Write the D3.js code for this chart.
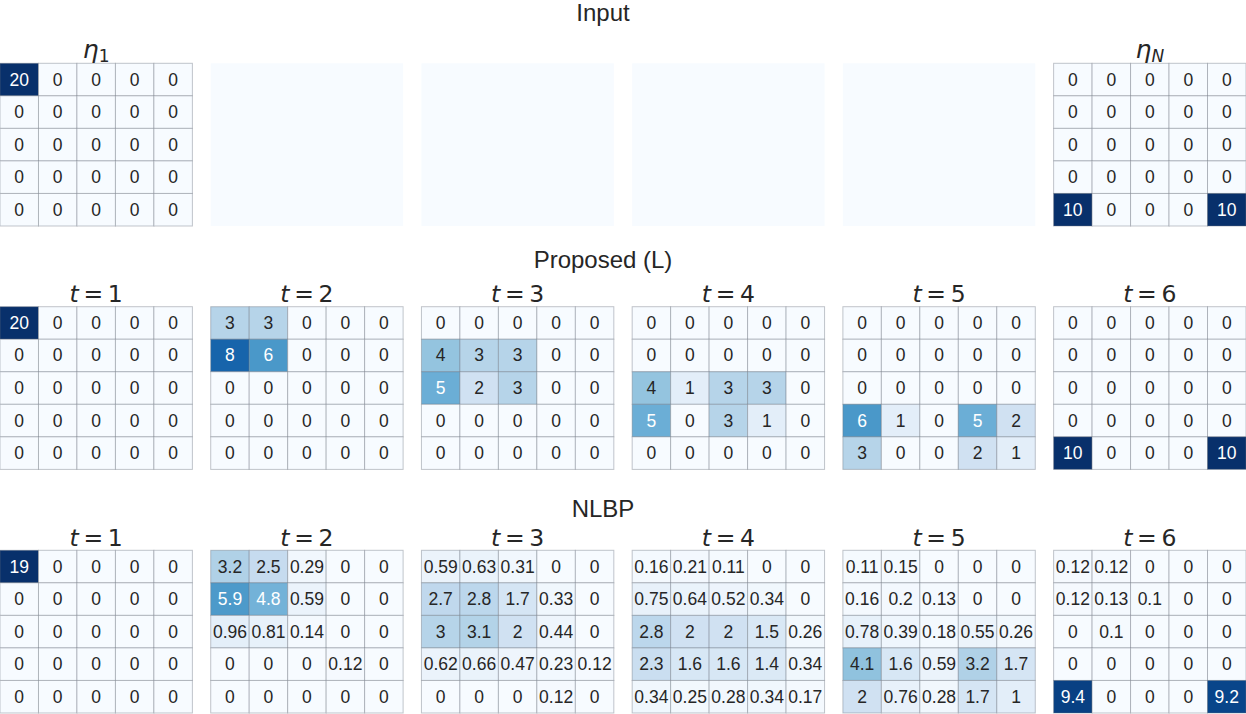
<!DOCTYPE html>
<html>
<head>
<meta charset="utf-8">
<script src="https://cdn.jsdelivr.net/npm/d3@7"></script>
<style>
  body { margin: 0; background: #fff; }
  svg { display: block; }
</style>
</head>
<body>
<svg width="1246" height="714"></svg>
<script>
// input matrices (first and last only, middle panels are empty)
var inputFirst = [[20,0,0,0,0],[0,0,0,0,0],[0,0,0,0,0],[0,0,0,0,0],[0,0,0,0,0]];
var inputLast  = [[0,0,0,0,0],[0,0,0,0,0],[0,0,0,0,0],[0,0,0,0,0],[10,0,0,0,10]];

var proposed = [
  [[20,0,0,0,0],[0,0,0,0,0],[0,0,0,0,0],[0,0,0,0,0],[0,0,0,0,0]],
  [[3,3,0,0,0],[8,6,0,0,0],[0,0,0,0,0],[0,0,0,0,0],[0,0,0,0,0]],
  [[0,0,0,0,0],[4,3,3,0,0],[5,2,3,0,0],[0,0,0,0,0],[0,0,0,0,0]],
  [[0,0,0,0,0],[0,0,0,0,0],[4,1,3,3,0],[5,0,3,1,0],[0,0,0,0,0]],
  [[0,0,0,0,0],[0,0,0,0,0],[0,0,0,0,0],[6,1,0,5,2],[3,0,0,2,1]],
  [[0,0,0,0,0],[0,0,0,0,0],[0,0,0,0,0],[0,0,0,0,0],[10,0,0,0,10]]
];

var nlbp = [
  [[19,0,0,0,0],[0,0,0,0,0],[0,0,0,0,0],[0,0,0,0,0],[0,0,0,0,0]],
  [[3.2,2.5,0.29,0,0],[5.9,4.8,0.59,0,0],[0.96,0.81,0.14,0,0],[0,0,0,0.12,0],[0,0,0,0,0]],
  [[0.59,0.63,0.31,0,0],[2.7,2.8,1.7,0.33,0],[3,3.1,2,0.44,0],[0.62,0.66,0.47,0.23,0.12],[0,0,0,0.12,0]],
  [[0.16,0.21,0.11,0,0],[0.75,0.64,0.52,0.34,0],[2.8,2,2,1.5,0.26],[2.3,1.6,1.6,1.4,0.34],[0.34,0.25,0.28,0.34,0.17]],
  [[0.11,0.15,0,0,0],[0.16,0.2,0.13,0,0],[0.78,0.39,0.18,0.55,0.26],[4.1,1.6,0.59,3.2,1.7],[2,0.76,0.28,1.7,1]],
  [[0.12,0.12,0,0,0],[0.12,0.13,0.1,0,0],[0,0.1,0,0,0],[0,0,0,0,0],[9.4,0,0,0,9.2]]
];

var rowTitles = ["Input", "Proposed (L)", "NLBP"];
var stepLabels = ["1", "2", "3", "4", "5", "6"];

var svg = d3.select('svg');
var svgWidth = +svg.attr('width');

var rowTop = [63.3, 306.7, 550.3];
var rowHeight = 162.7;
var titleX = 603;
var titleY = [21, 268.3, 516.7];

var panelX = d3.scaleBand()
  .domain(d3.range(6))
  .range([0, svgWidth])
  .paddingInner(0.087);

var cellX = d3.scaleBand().domain(d3.range(5)).range([0, panelX.bandwidth()]);
var cellY = d3.scaleBand().domain(d3.range(5)).range([0, rowHeight]);

// matplotlib "Blues", piecewise linear, vmin 0 / vmax 10
var blues = ["#f7fbff","#deebf7","#c6dbef","#9ecae1","#6baed6","#4292c6","#2171b5","#08519c","#08306b"];
var color = d3.scaleLinear()
  .domain(d3.range(9).map(function(i) { return i * 10 / 8; }))
  .range(blues)
  .clamp(true);

var fmt = d3.format(".2~g");

function lum(c) {
  var rgb = d3.rgb(c);
  var lin = [rgb.r, rgb.g, rgb.b].map(function(v) {
    v = v / 255;
    return v <= 0.03928 ? v / 12.92 : Math.pow((v + 0.055) / 1.055, 2.4);
  });
  return 0.2126 * lin[0] + 0.7152 * lin[1] + 0.0722 * lin[2];
}

function drawHeatmap(matrix, col, row) {
  var g = svg.append('g')
    .attr('transform', 'translate(' + [panelX(col), rowTop[row]] + ')');

  var cells = [];
  matrix.forEach(function(r, i) {
    r.forEach(function(v, j) { cells.push({i: i, j: j, v: v}); });
  });

  g.selectAll('rect.cell')
    .data(cells)
    .enter()
    .append('rect')
    .attr('class', 'cell')
    .attr('x', d => cellX(d.j))
    .attr('y', d => cellY(d.i))
    .attr('width', cellX.bandwidth())
    .attr('height', cellY.bandwidth())
    .attr('fill', d => color(d.v))
    .attr('stroke', 'rgba(110,116,128,0.42)')
    .attr('stroke-width', 1);

  g.selectAll('text.annot')
    .data(cells)
    .enter()
    .append('text')
    .attr('class', 'annot')
    .attr('x', d => cellX(d.j) + cellX.bandwidth() / 2)
    .attr('y', d => cellY(d.i) + cellY.bandwidth() / 2 + 6)
    .attr('text-anchor', 'middle')
    .style('font-family', '"Liberation Sans", Arial, sans-serif')
    .style('font-size', '17.5px')
    .attr('fill', d => lum(color(d.v)) > 0.408 ? '#262626' : '#ffffff')
    .text(d => fmt(d.v));
}

function drawBlank(col, row) {
  svg.append('rect')
    .attr('x', panelX(col))
    .attr('y', rowTop[row])
    .attr('width', panelX.bandwidth())
    .attr('height', rowHeight)
    .attr('fill', color(0));
}

function stepLabel(col, row, label) {
  var t = svg.append('text')
    .attr('x', panelX(col) + panelX.bandwidth() / 2)
    .attr('y', rowTop[row] - 4.5)
    .attr('text-anchor', 'middle')
    .style('font-family', '"DejaVu Sans", sans-serif')
    .style('font-size', '23.5px')
    .attr('fill', '#262626');
  t.append('tspan').style('font-style', 'italic').text('t');
  t.append('tspan').text('\u2009=\u2009' + label);
}

function etaLabel(col, sub, subItalic) {
  var t = svg.append('text')
    .attr('x', panelX(col) + panelX.bandwidth() / 2)
    .attr('y', 58)
    .attr('text-anchor', 'middle')
    .style('font-family', '"DejaVu Sans", sans-serif')
    .style('font-size', '25px')
    .attr('fill', '#262626');
  t.append('tspan').style('font-style', 'italic').text('\u03b7');
  t.append('tspan')
    .style('font-size', '17px')
    .attr('dy', 4)
    .style('font-style', subItalic ? 'italic' : 'normal')
    .text(sub);
}

// row titles
rowTitles.forEach(function(txt, r) {
  svg.append('text')
    .attr('x', titleX)
    .attr('y', titleY[r])
    .attr('text-anchor', 'middle')
    .style('font-family', '"Liberation Sans", Arial, sans-serif')
    .style('font-size', '24px')
    .attr('fill', '#262626')
    .text(txt);
});

// input row
drawHeatmap(inputFirst, 0, 0);
for (var c = 1; c < 5; c++) drawBlank(c, 0);
drawHeatmap(inputLast, 5, 0);
etaLabel(0, '1', false);
etaLabel(5, 'N', true);

// proposed and NLBP rows
proposed.forEach(function(m, k) {
  drawHeatmap(m, k, 1);
  stepLabel(k, 1, stepLabels[k]);
});
nlbp.forEach(function(m, k) {
  drawHeatmap(m, k, 2);
  stepLabel(k, 2, stepLabels[k]);
});
</script>
</body>
</html>
